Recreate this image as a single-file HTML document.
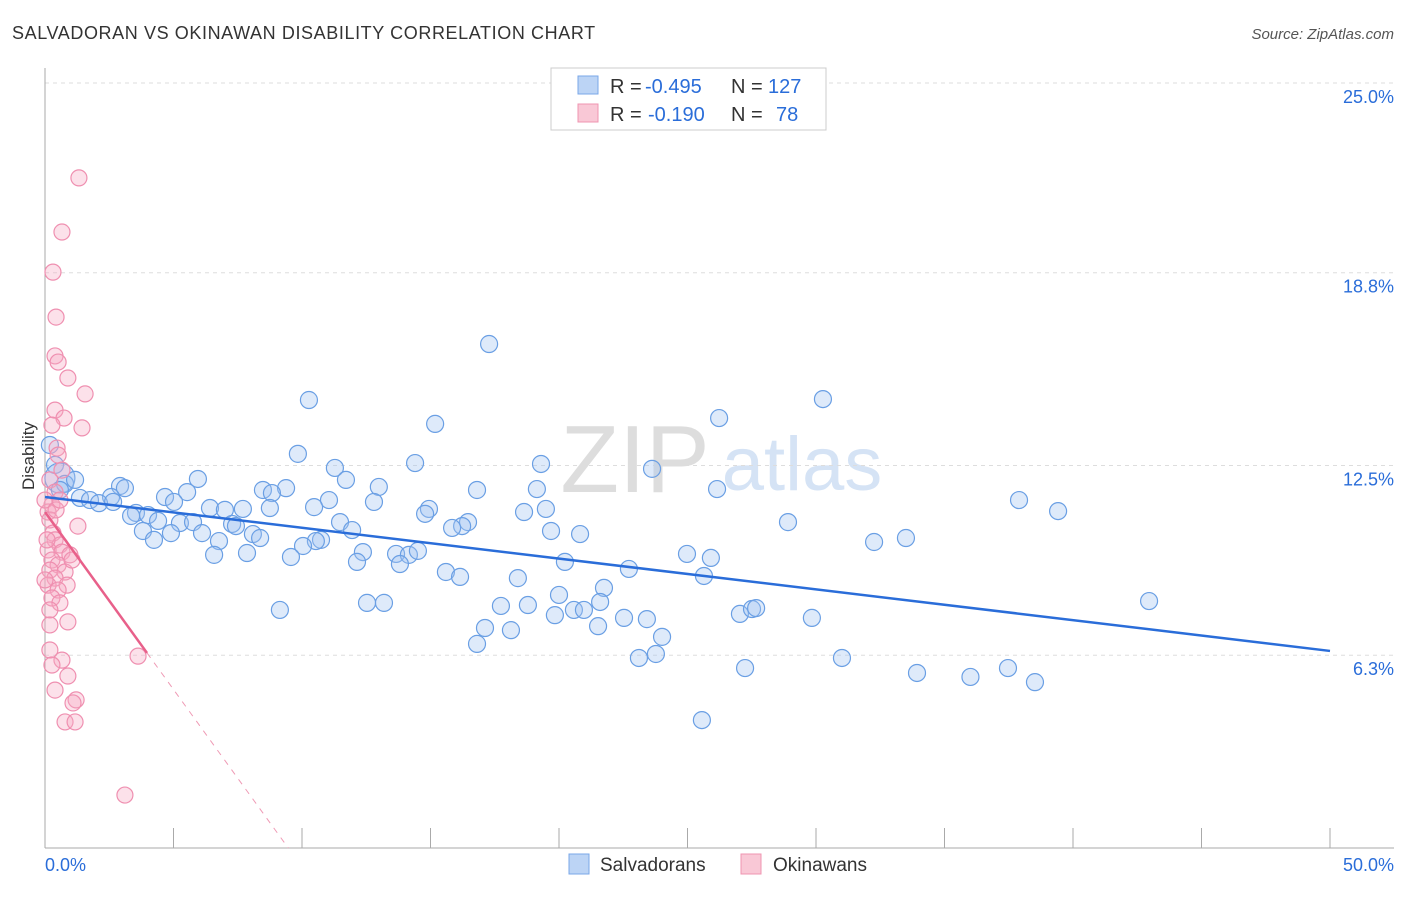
<!DOCTYPE html>
<html><head><meta charset="utf-8"><style>
body{margin:0;background:#fff;font-family:"Liberation Sans",sans-serif}
svg text{font-family:"Liberation Sans",sans-serif}
</style></head><body>
<svg id="c" width="1406" height="892">
<text x="12" y="39" font-size="18" fill="#333" letter-spacing="0.6">SALVADORAN VS OKINAWAN DISABILITY CORRELATION CHART</text>
<text x="1394" y="39" font-size="15" fill="#555" font-style="italic" text-anchor="end">Source: ZipAtlas.com</text>
<g><text x="635" y="492" font-size="96" fill="#ddd" font-family="Liberation Serif" text-anchor="middle">ZIP</text><text x="802" y="490" font-size="76" fill="#d5e3f5" text-anchor="middle">atlas</text></g>
<g id="grid"></g><g id="axes"></g><g id="pts"></g><g id="lines"></g>
<text x="34" y="456" font-size="17" fill="#333" text-anchor="middle" transform="rotate(-90 34 456)">Disability</text>
<g>
<rect x="551" y="68" width="275" height="62" fill="#fff" stroke="#ccc"/>
<rect x="578" y="76" width="20" height="18" fill="#bcd4f5" stroke="#7aa7e8"/>
<rect x="578" y="104" width="20" height="18" fill="#f9c8d6" stroke="#ef94b0"/>
<text x="610" y="93" font-size="20" fill="#333">R =</text><text x="645" y="93" font-size="20" fill="#2a6dd9">-0.495</text>
<text x="731" y="93" font-size="20" fill="#333">N =</text><text x="768" y="93" font-size="20" fill="#2a6dd9">127</text>
<text x="610" y="121" font-size="20" fill="#333">R =</text><text x="648" y="121" font-size="20" fill="#2a6dd9">-0.190</text>
<text x="731" y="121" font-size="20" fill="#333">N =</text><text x="776" y="121" font-size="20" fill="#2a6dd9">78</text>
</g>
<g>
<rect x="569" y="854" width="20" height="20" fill="#bcd4f5" stroke="#7aa7e8"/><text x="600" y="871" font-size="19" fill="#333">Salvadorans</text>
<rect x="741" y="854" width="20" height="20" fill="#f9c8d6" stroke="#ef94b0"/><text x="773" y="871" font-size="19" fill="#333">Okinawans</text>
</g>
</svg>
<script>
const yTicks=[25,18.8,12.5,6.3];
const yTickLabels=["25.0%","18.8%","12.5%","6.3%"];
const xTickCount=10;
const xTickLabels=["0.0%","50.0%"];
const blueX=[17.28,10.27,30.27,26.23,15.18,9.84,14.40,19.30,23.62,11.28,5.95,11.71,2.92,3.11,12.99,16.81,19.14,26.15,9.38,8.48,8.83,5.53,4.67,2.57,1.36,1.75,2.10,2.65,5.02,11.05,12.80,37.90,10.47,6.42,7.0,7.70,8.75,14.94,14.79,19.49,18.64,39.42,3.54,4.01,3.35,4.40,5.25,5.76,7.28,7.43,11.48,16.46,16.23,15.84,28.91,3.81,4.90,6.11,8.09,8.37,11.95,19.69,20.82,4.24,6.77,10.74,10.54,10.04,32.26,33.50,6.58,7.86,9.57,12.37,13.66,14.16,14.51,12.14,13.81,24.98,25.91,20.23,15.60,16.15,22.72,18.40,25.64,21.75,20.0,12.53,13.19,21.60,42.96,9.14,17.74,18.79,20.58,20.97,19.84,22.53,23.42,27.04,27.51,27.67,29.84,21.52,17.12,18.13,24.01,16.81,23.11,23.77,31.01,27.24,33.93,36.01,37.47,38.52,25.56,0.19,0.39,0.58,0.78,1.17,0.58];
const blueY=[16.47,14.64,14.67,14.05,13.86,12.88,12.58,12.55,12.39,12.42,12.06,12.03,11.83,11.76,11.80,11.70,11.73,11.73,11.76,11.70,11.60,11.63,11.47,11.47,11.44,11.37,11.27,11.31,11.31,11.37,11.31,11.37,11.14,11.11,11.05,11.08,11.11,11.08,10.92,11.08,10.98,11.01,10.95,10.88,10.85,10.69,10.62,10.65,10.59,10.52,10.65,10.65,10.52,10.46,10.65,10.36,10.29,10.29,10.26,10.13,10.39,10.36,10.26,10.07,10.03,10.07,10.03,9.87,10.0,10.13,9.58,9.64,9.51,9.67,9.61,9.58,9.71,9.35,9.28,9.61,9.48,9.35,9.02,8.86,9.12,8.82,8.89,8.50,8.27,8.01,8.01,8.04,8.07,7.78,7.91,7.94,7.78,7.78,7.61,7.52,7.48,7.65,7.81,7.84,7.52,7.25,7.19,7.12,6.90,6.67,6.21,6.34,6.21,5.88,5.72,5.59,5.88,5.42,4.18,13.17,12.52,12.09,11.90,12.03,11.70];
const pinkX=[1.32,0.66,0.31,0.43,0.39,0.51,0.89,1.56,0.39,0.74,0.27,1.44,0.47,0.51,0.66,0.19,0.39,0.27,0.12,1.28,0.19,0.31,0.39,0.58,0.12,0.66,0.97,0.27,0.51,0.19,0.78,0.39,0.12,0.86,0.51,0.27,0.58,0.19,0.89,0.19,3.62,0.19,0.66,0.27,0.89,0.39,1.21,1.09,0.78,1.17,3.11,0,0.08,1.05,0.43,0.58,0];
const pinkY=[21.90,20.13,18.82,17.35,16.08,15.88,15.36,14.84,14.31,14.05,13.82,13.73,13.07,12.84,12.35,12.03,11.63,11.21,10.98,10.52,10.72,10.29,10.07,9.90,9.74,9.67,9.58,9.41,9.25,9.08,9.02,8.82,8.59,8.59,8.43,8.17,8.01,7.78,7.39,7.29,6.27,6.47,6.14,5.98,5.62,5.16,4.84,4.74,4.12,4.12,1.73,11.37,10.07,9.41,11.05,11.37,8.76];
const blueTrend=[11.47,-0.1006];
const pinkTrend=[10.98,-1.16];
const pinkSolidEnd=3.97;
const X0=45,X1=1330,Y0=848,PXY=30.6;
const sx=v=>X0+(X1-X0)*v/50, sy=v=>Y0-v*PXY;
const NS='http://www.w3.org/2000/svg';
function mk(tag,attrs,parent){const e=document.createElementNS(NS,tag);for(const k in attrs)e.setAttribute(k,attrs[k]);document.getElementById(parent).appendChild(e);return e;}
yTicks.forEach((t,i)=>{
 const g=mk('line',{x1:X0,x2:1394,y1:sy(t),y2:sy(t),stroke:'#ddd','stroke-dasharray':'4,4'},'grid');
 
 
 const l=mk('text',{x:1394,y:sy(t)+20,'font-size':18,fill:'#2a6dd9','text-anchor':'end'},'axes');l.textContent=yTickLabels[i];
 
 
});
mk('line',{x1:X0,x2:X0,y1:68,y2:Y0,stroke:'#aaa'},'axes');
mk('line',{x1:X0,x2:1394,y1:Y0,y2:Y0,stroke:'#aaa'},'axes');
for(let i=1;i<=xTickCount;i++){const x=sx(i*5);const t=mk('line',{x1:x,x2:x,y1:828,y2:Y0,stroke:'#aaa'},'axes');
 
 }
[[0,'start',45],[50,'end',1394]].forEach((a,i)=>{const l=mk('text',{x:a[2],y:871,'font-size':18,fill:'#2a6dd9','text-anchor':a[1]},'axes');l.textContent=xTickLabels[i];
 
 });
blueX.forEach((v,i)=>{const c=mk('circle',{cx:sx(v),cy:sy(blueY[i]),r:i==121?15:8.5,fill:'rgba(160,195,240,0.35)',stroke:'#6a9fe4','stroke-width':1.2},'pts');
 
 });
pinkX.forEach((v,i)=>{const c=mk('circle',{cx:sx(v),cy:sy(pinkY[i]),r:8,fill:'rgba(245,170,195,0.35)',stroke:'#ef8fb0','stroke-width':1.2},'pts');
 
 });
const bl=mk('line',{x1:sx(0),y1:sy(blueTrend[0]),x2:sx(50),y2:sy(blueTrend[0]+blueTrend[1]*50),stroke:'#2a6dd9','stroke-width':2.5},'lines');


const pl=mk('line',{x1:sx(0),y1:sy(pinkTrend[0]),x2:sx(pinkSolidEnd),y2:sy(pinkTrend[0]+pinkTrend[1]*pinkSolidEnd),stroke:'#e8608a','stroke-width':2.5},'lines');


const xe=-pinkTrend[0]/pinkTrend[1];
const pd=mk('line',{x1:sx(pinkSolidEnd),y1:sy(pinkTrend[0]+pinkTrend[1]*pinkSolidEnd),x2:sx(xe),y2:sy(0),stroke:'#ef9ab5','stroke-width':1,'stroke-dasharray':'6,6'},'lines');


</script>
</body></html>
